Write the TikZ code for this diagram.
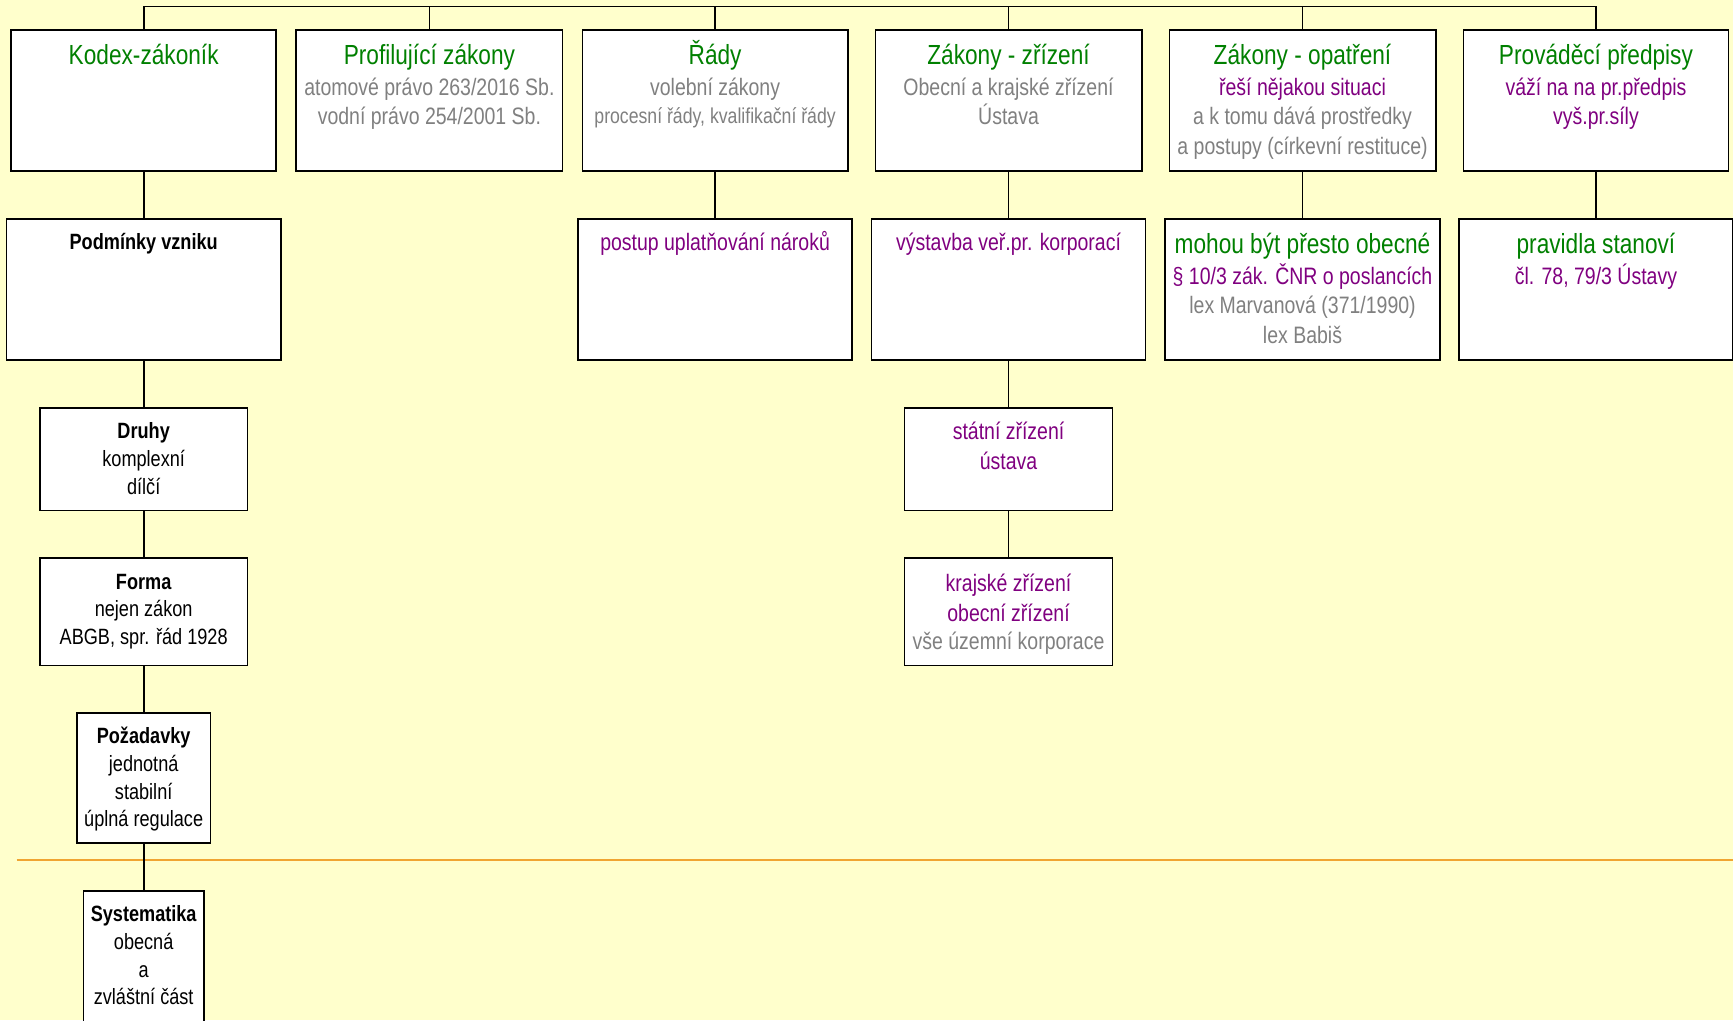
\documentclass[tikz,border=0pt]{standalone}
\usepackage{fontspec}
\setmainfont{Liberation Sans}[FakeStretch=0.82]
\definecolor{bgc}{RGB}{255,255,204}
\definecolor{tgreen}{RGB}{0,128,0}
\definecolor{tpurple}{RGB}{128,0,128}
\definecolor{tgray}{RGB}{128,128,128}
\definecolor{orangeline}{RGB}{240,165,50}
\newcommand\fbig{\fontsize{25}{30}\selectfont}
\newcommand\fmid{\fontsize{21.5}{26}\selectfont}
\newcommand\fsmall{\fontsize{19.5}{24}\selectfont}
\newcommand\fleft{\fontsize{20}{24}\selectfont}
\newcommand\fleftb{\fontsize{20}{24}\selectfont\bfseries}
\newcommand\txtline[6]{\node[anchor=base,inner sep=0pt,text=#5,font=#4] (#1) at (#2,#3) {#6};}
\begin{document}
\begin{tikzpicture}[x=1pt,y=-1pt,
  box/.style={draw=black,line width=1.5pt,fill=white,inner sep=0pt},
  conn/.style={line width=1.5pt,draw=black},
  orangestroke/.style={line width=2pt,draw=orangeline}]
\fill[bgc] (0,0) rectangle (1568,923);
\useasboundingbox (0,0) rectangle (1568,923);
\clip (0,0) rectangle (1568,923);

% row 1
\node[box,minimum width=240pt,minimum height=128pt] (b1) at (130,91) {};
\node[box,minimum width=241pt,minimum height=128pt] (b2) at (388.5,91) {};
\node[box,minimum width=240pt,minimum height=128pt] (b3) at (647,91) {};
\node[box,minimum width=241pt,minimum height=128pt] (b4) at (912.5,91) {};
\node[box,minimum width=241pt,minimum height=128pt] (b5) at (1178.5,91) {};
\node[box,minimum width=240pt,minimum height=128pt] (b6) at (1444,91) {};
% row 2
\node[box,minimum width=248pt,minimum height=128pt] (p1) at (130,262) {};
\node[box,minimum width=248pt,minimum height=128pt] (p3) at (647,262) {};
\node[box,minimum width=248pt,minimum height=128pt] (p4) at (912.5,262) {};
\node[box,minimum width=249pt,minimum height=128pt] (p5) at (1178.5,262) {};
\node[box,minimum width=248pt,minimum height=128pt] (p6) at (1444,262) {};
% left column
\node[box,minimum width=188pt,minimum height=93pt] (druhy) at (130,415.5) {};
\node[box,minimum width=188pt,minimum height=97pt] (forma) at (130,553.5) {};
\node[box,minimum width=121pt,minimum height=118pt] (pozad) at (130,704) {};
\node[box,minimum width=109pt,minimum height=134pt] (system) at (130,873) {};
% middle column
\node[box,minimum width=188pt,minimum height=93pt] (statni) at (912.5,415.5) {};
\node[box,minimum width=188pt,minimum height=97pt] (krajske) at (912.5,553.5) {};

% orange line
\coordinate (oL) at (15,778);
\coordinate (oR) at (1568,778);
\draw[orangestroke] (oL) -- (oR);

% connectors
\coordinate (topL) at (130,6);
\draw[conn] (b1.north) -- (b1.north |- topL) -- (b6.north |- topL) -- (b6.north);
\draw[conn] (b2.north) -- (b2.north |- topL);
\draw[conn] (b3.north) -- (b3.north |- topL);
\draw[conn] (b4.north) -- (b4.north |- topL);
\draw[conn] (b5.north) -- (b5.north |- topL);
\draw[conn] (b1.south) -- (p1.north);
\draw[conn] (b3.south) -- (p3.north);
\draw[conn] (b4.south) -- (p4.north);
\draw[conn] (b5.south) -- (p5.north);
\draw[conn] (b6.south) -- (p6.north);
\draw[conn] (p1.south) -- (druhy.north);
\draw[conn] (druhy.south) -- (forma.north);
\draw[conn] (forma.south) -- (pozad.north);
\draw[conn] (pozad.south) -- (system.north);
\draw[conn] (p4.south) -- (statni.north);
\draw[conn] (statni.south) -- (krajske.north);

% texts row 1
\txtline{t11}{130}{58}{\fbig}{tgreen}{Kodex-zákoník}
\txtline{t21}{388.5}{58}{\fbig}{tgreen}{Profilující zákony}
\txtline{t22}{388.5}{86}{\fmid}{tgray}{atomové právo 263/2016 Sb.}
\txtline{t23}{388.5}{113}{\fmid}{tgray}{vodní právo 254/2001 Sb.}
\txtline{t31}{647}{58}{\fbig}{tgreen}{Řády}
\txtline{t32}{647}{86}{\fmid}{tgray}{volební zákony}
\txtline{t33}{647}{112}{\fsmall}{tgray}{procesní řády, kvalifikační řády}
\txtline{t41}{912.5}{58}{\fbig}{tgreen}{Zákony - zřízení}
\txtline{t42}{912.5}{86}{\fmid}{tgray}{Obecní a krajské zřízení}
\txtline{t43}{912.5}{113}{\fmid}{tgray}{Ústava}
\txtline{t51}{1178.5}{58}{\fbig}{tgreen}{Zákony - opatření}
\txtline{t52}{1178.5}{86}{\fmid}{tpurple}{řeší nějakou situaci}
\txtline{t53}{1178.5}{113}{\fmid}{tgray}{a k tomu dává prostředky}
\txtline{t54}{1178.5}{140}{\fmid}{tgray}{a postupy (církevní restituce)}
\txtline{t61}{1444}{58}{\fbig}{tgreen}{Prováděcí předpisy}
\txtline{t62}{1444}{86}{\fmid}{tpurple}{váží na na pr.předpis}
\txtline{t63}{1444}{113}{\fmid}{tpurple}{vyš.pr.síly}
% row 2
\txtline{u11}{130}{226}{\fleftb}{black}{Podmínky vzniku}
\txtline{u31}{647}{227}{\fmid}{tpurple}{postup uplatňování nároků}
\txtline{u41}{912.5}{227}{\fmid}{tpurple}{výstavba veř.pr. korporací}
\txtline{u51}{1178.5}{229}{\fbig}{tgreen}{mohou být přesto obecné}
\txtline{u52}{1178.5}{257}{\fmid}{tpurple}{§ 10/3 zák. ČNR o poslancích}
\txtline{u53}{1178.5}{284}{\fmid}{tgray}{lex Marvanová (371/1990)}
\txtline{u54}{1178.5}{311}{\fmid}{tgray}{lex Babiš}
\txtline{u61}{1444}{229}{\fbig}{tgreen}{pravidla stanoví}
\txtline{u62}{1444}{257}{\fmid}{tpurple}{čl. 78, 79/3 Ústavy}
% left column
\txtline{d1}{130}{397}{\fleftb}{black}{Druhy}
\txtline{d2}{130}{422}{\fleft}{black}{komplexní}
\txtline{d3}{130}{447}{\fleft}{black}{dílčí}
\txtline{f1}{130}{533}{\fleftb}{black}{Forma}
\txtline{f2}{130}{558}{\fleft}{black}{nejen zákon}
\txtline{f3}{130}{583}{\fleft}{black}{ABGB, spr. řád 1928}
\txtline{q1}{130}{673}{\fleftb}{black}{Požadavky}
\txtline{q2}{130}{698}{\fleft}{black}{jednotná}
\txtline{q3}{130}{723}{\fleft}{black}{stabilní}
\txtline{q4}{130}{748}{\fleft}{black}{úplná regulace}
\txtline{s1}{130}{834}{\fleftb}{black}{Systematika}
\txtline{s2}{130}{859}{\fleft}{black}{obecná}
\txtline{s3}{130}{884}{\fleft}{black}{a}
\txtline{s4}{130}{909}{\fleft}{black}{zvláštní část}
% middle column
\txtline{m1}{912.5}{398}{\fmid}{tpurple}{státní zřízení}
\txtline{m2}{912.5}{425}{\fmid}{tpurple}{ústava}
\txtline{k1}{912.5}{535}{\fmid}{tpurple}{krajské zřízení}
\txtline{k2}{912.5}{562}{\fmid}{tpurple}{obecní zřízení}
\txtline{k3}{912.5}{588}{\fmid}{tgray}{vše územní korporace}
\end{tikzpicture}
\end{document}
